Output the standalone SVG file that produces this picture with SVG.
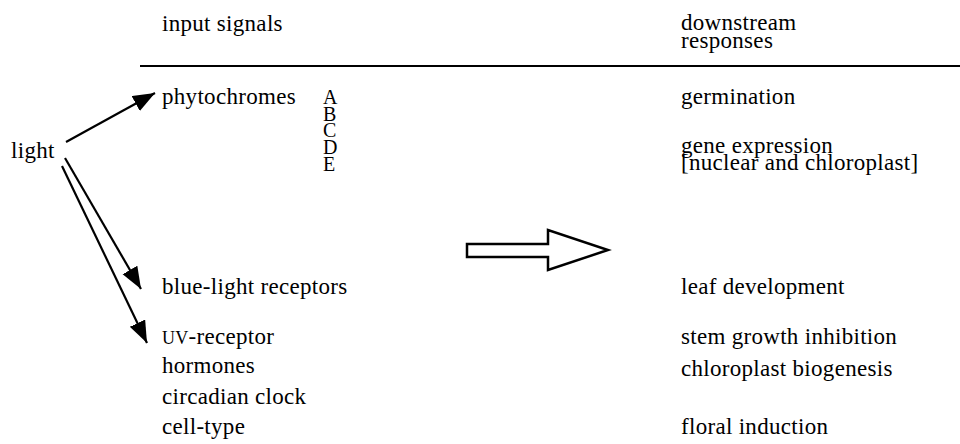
<svg xmlns="http://www.w3.org/2000/svg" width="960" height="444" viewBox="0 0 960 444">
<style>
text{font-family:'Liberation Serif','DejaVu Serif','Noto Serif',serif;font-size:23px;letter-spacing:0.3px;fill:#000}
.lt{font-size:20px;letter-spacing:0}
.ln{stroke:#000;stroke-width:2.2;fill:none}
</style>
<defs>
<marker id="ah" markerUnits="userSpaceOnUse" markerWidth="24" markerHeight="18" refX="22" refY="8.5" orient="auto">
<path d="M0,0 L22,8.5 L0,17 z" fill="#000"/>
</marker>
</defs>
<rect width="960" height="444" fill="#fff"/>
<g id="headers">
<text x="162" y="31">input signals</text>
<text x="681" y="30">downstream</text>
<text x="681" y="48">responses</text>
<line x1="140" y1="66" x2="960" y2="66" stroke="#000" stroke-width="2"/>
</g>
<g id="light"><text x="11" y="158">light</text></g>
<g id="phytochromes"><text x="162" y="104">phytochromes</text>
<text class="lt" x="323" y="104">A</text><text class="lt" x="323" y="121">B</text><text class="lt" x="323" y="137">C</text><text class="lt" x="323" y="154">D</text><text class="lt" x="323" y="171">E</text></g>
<g id="bluelight"><text x="162" y="294">blue-light receptors</text></g>
<g id="uv"><text x="162" y="344"><tspan font-size="18">UV</tspan>-receptor</text></g>
<g id="hormones"><text x="162" y="373">hormones</text></g>
<g id="circadian"><text x="162" y="404">circadian clock</text></g>
<g id="celltype"><text x="162" y="434">cell-type</text></g>
<g id="germination"><text x="681" y="104">germination</text></g>
<g id="gene"><text x="681" y="153">gene expression</text><text x="681" y="170">[nuclear and chloroplast]</text></g>
<g id="leaf"><text x="681" y="294">leaf development</text></g>
<g id="stem"><text x="681" y="344">stem growth inhibition</text></g>
<g id="chloro"><text x="681" y="376">chloroplast biogenesis</text></g>
<g id="floral"><text x="681" y="434">floral induction</text></g>
<g id="bigarrow"><polygon points="467,244 548,244 548,230 608,250 548,270 548,257 467,257" fill="#fff" stroke="#000" stroke-width="2.5" stroke-linejoin="miter"/></g>
<g id="connectors">
<line class="ln" x1="66" y1="142" x2="155" y2="93" marker-end="url(#ah)"/>
<line class="ln" x1="65" y1="158" x2="141" y2="289" marker-end="url(#ah)"/>
<line class="ln" x1="62" y1="166" x2="147" y2="343" marker-end="url(#ah)"/>
</g>
</svg>
